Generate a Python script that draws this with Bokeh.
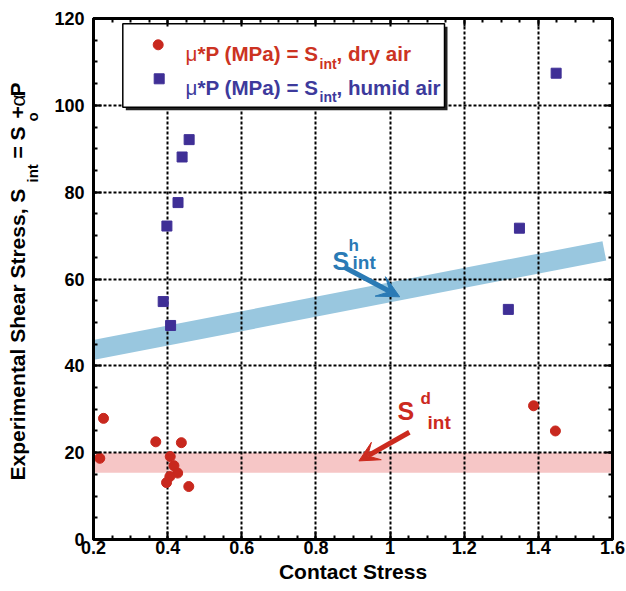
import math
from bokeh.plotting import figure
from bokeh.layouts import row
from bokeh.models import (Range1d, FixedTicker, LinearAxis, CustomJSTickFormatter,
                          Label, Arrow, VeeHead)
from bokeh.core.properties import value
from bokeh.embed import file_html
from bokeh.resources import INLINE

# ---------------- data ----------------
dry_x = [0.227, 0.217, 0.368, 0.437, 0.407, 0.417, 0.427, 0.406, 0.397, 0.457, 1.387, 1.446]
dry_y = [27.9, 18.7, 22.5, 22.3, 19.1, 17.0, 15.3, 14.5, 13.1, 12.2, 30.8, 25.0]
humid_x = [0.458, 0.439, 0.428, 0.398, 0.388, 0.408, 1.448, 1.349, 1.319]
humid_y = [92.1, 88.1, 77.6, 72.2, 54.8, 49.3, 107.4, 71.7, 53.0]

# humid-air band (S^h_int): centre line end points and half thickness
humid_band_x = [0.2, 1.578]
humid_band_y = [43.65, 66.5]
humid_band_half = 2.3
# dry-air band (S^d_int): lower / upper limits
dry_band_y = [15.4, 20.0]

x_ticks = [0.2, 0.4, 0.6, 0.8, 1.0, 1.2, 1.4, 1.6]
y_ticks = [0, 20, 40, 60, 80, 100, 120]

# arrows (tail -> head) in data units
arrow_h = [0.877, 62.7, 1.026, 55.9]
arrow_d = [1.052, 24.7, 0.916, 18.1]

RED = "#c8281e"
RED_T = "#cc3322"
BLUE = "#3f2f96"
BLUE_T = "#3d3a9c"
LBLUE = "#2a7ab5"
DRED = "#cc2a1e"
FONT = "Liberation Sans"

W, H = 626, 591
SW = 46                      # width of the strip that holds the y-axis title
BL, BR, BT, BB = 93, 14, 18, 52
X0, X1, Y0, Y1 = 0.2, 1.6, 0.0, 120.0
FW, FH = W - BL - BR, H - BT - BB


def px2x(px):
    return X0 + (px - BL) / FW * (X1 - X0)


def py2y(py):
    return Y0 + (BT + FH - py) / FH * (Y1 - Y0)


p = figure(width=W - SW, height=H, output_backend="svg", toolbar_location=None,
           x_range=Range1d(X0, X1), y_range=Range1d(Y0, Y1),
           min_border_left=BL - SW, min_border_right=BR, min_border_top=BT,
           min_border_bottom=BB)
p.background_fill_color = "white"
p.border_fill_color = "white"
p.outline_line_color = "black"
p.outline_line_width = 3

x_minor = [round(0.2 + 0.05 * i, 3) for i in range(29)]
y_minor = [5 * i for i in range(25)]


def style_axis(ax, ticks, minor, labels=True):
    ax.ticker = FixedTicker(ticks=ticks, minor_ticks=minor)
    ax.axis_line_color = "black"
    ax.axis_line_width = 3
    ax.major_tick_in = 8
    ax.major_tick_out = 0
    ax.minor_tick_in = 4
    ax.minor_tick_out = 0
    ax.major_tick_line_width = 2
    ax.minor_tick_line_width = 2
    ax.major_tick_line_color = "black"
    ax.minor_tick_line_color = "black"
    ax.major_label_text_font = FONT
    ax.major_label_text_font_style = "bold"
    ax.major_label_text_font_size = "18px"
    ax.major_label_text_color = "black"
    if not labels:
        ax.formatter = CustomJSTickFormatter(code="return '';")
        ax.major_label_standoff = 0


style_axis(p.xaxis[0], x_ticks, x_minor)
p.xaxis[0].formatter = CustomJSTickFormatter(code="return String(Math.round(tick*10)/10);")
p.xaxis[0].major_label_standoff = 1
p.xaxis[0].axis_label = "Contact Stress"
p.xaxis[0].axis_label_text_font = FONT
p.xaxis[0].axis_label_text_font_style = "bold"
p.xaxis[0].axis_label_text_font_size = "21px"
p.xaxis[0].axis_label_text_color = "black"
p.xaxis[0].axis_label_standoff = 3

style_axis(p.yaxis[0], y_ticks, y_minor)
p.yaxis[0].major_label_standoff = 9

top_ax = LinearAxis()
style_axis(top_ax, x_ticks, x_minor, labels=False)
p.add_layout(top_ax, "above")
right_ax = LinearAxis()
style_axis(right_ax, y_ticks, y_minor, labels=False)
p.add_layout(right_ax, "right")

for g, t in ((p.xgrid[0], x_ticks), (p.ygrid[0], y_ticks)):
    g.ticker = FixedTicker(ticks=t)
    g.grid_line_color = "black"
    g.grid_line_width = 2
    g.grid_line_dash = "3 2"

# ---------------- bands ----------------
slope = (humid_band_y[1] - humid_band_y[0]) / (humid_band_x[1] - humid_band_x[0])


def centre(x):
    return humid_band_y[0] + slope * (x - humid_band_x[0])


# perpendicular cut at the right end (in pixel space)
sx = FW / (X1 - X0)
sy = FH / (Y1 - Y0)
ang = math.atan(slope * sy / sx)
half_px = humid_band_half * sy * math.cos(ang)
dx = half_px * math.sin(ang) / sx
xr = humid_band_x[1]
xl = 0.1
bx = [xl, xr - dx, xr + dx, xl]
by = [centre(xl) + humid_band_half, centre(xr - dx) + humid_band_half,
      centre(xr + dx) - humid_band_half, centre(xl) - humid_band_half]
p.patch(bx, by, fill_color="#99c7df", line_color=None, level="image")

p.quad(left=[0.1], right=[1.7], bottom=[dry_band_y[0]], top=[dry_band_y[1]],
       fill_color="#f6c6c6", line_color=None, level="image")

# ---------------- points ----------------
p.scatter(dry_x, dry_y, marker="circle", size=10, fill_color=RED, line_color=RED)
p.scatter(humid_x, humid_y, marker="square", size=10, fill_color=BLUE, line_color=BLUE)

# ---------------- arrows ----------------
p.add_layout(Arrow(x_start=arrow_h[0], y_start=arrow_h[1], x_end=arrow_h[2], y_end=arrow_h[3],
                   line_color=LBLUE, line_width=5,
                   end=VeeHead(size=22, fill_color=LBLUE, line_color=LBLUE)))
p.add_layout(Arrow(x_start=arrow_d[0], y_start=arrow_d[1], x_end=arrow_d[2], y_end=arrow_d[3],
                   line_color=DRED, line_width=5,
                   end=VeeHead(size=20, fill_color=DRED, line_color=DRED)))


def lab(txt, px, py, size, color="black", bold=True):
    p.add_layout(Label(x=px2x(px), y=py2y(py), text=txt, text_font=FONT,
                       text_font_size=f"{size}px",
                       text_font_style="bold" if bold else "normal",
                       text_color=color, text_align="left",
                       text_baseline="alphabetic"))


# band labels
lab("S", 332, 260, 25, LBLUE)
lab("h", 348, 245, 17, LBLUE)
lab("int", 352, 262, 19, LBLUE)
lab("S", 397, 410, 25, DRED)
lab("d", 420, 398, 17, DRED)
lab("int", 427, 422, 19, DRED)

# ---------------- legend ----------------
lb_l, lb_r, lb_t, lb_b = 122.3, 444, 23.3, 106.7
p.quad(left=[px2x(lb_l + 3)], right=[px2x(lb_r + 3)], top=[py2y(lb_t + 3)], bottom=[py2y(lb_b + 3)],
       fill_color="#222222", line_color=None)
p.quad(left=[px2x(lb_l)], right=[px2x(lb_r)], top=[py2y(lb_t)], bottom=[py2y(lb_b)],
       fill_color="white", line_color="black", line_width=1.5)
p.scatter([px2x(157.7)], [py2y(44.3)], marker="circle", size=10, fill_color=RED, line_color=RED)
p.scatter([px2x(158.7)], [py2y(78.3)], marker="square", size=10, fill_color=BLUE, line_color=BLUE)

for base, col, tail in ((53.3, RED_T, ", dry air"), (86.7, BLUE_T, ", humid air")):
    lab("\u03bc", 185, base, 20.6, col, bold=False)
    lab("*P (MPa) = S", 197, base, 20.6, col)
    lab("int", 319, base + 9.7, 14, col)
    lab(tail, 336, base, 20.6, col)

# ---------------- y axis title (separate strip on the left) ----------------
# the row aligns this strip's frame with the main frame (screen rows BT .. H-BB)
s = figure(width=SW, height=H, output_backend="svg", toolbar_location=None,
           x_range=Range1d(0, SW), y_range=Range1d(BB, H - BT),
           x_axis_type=None, y_axis_type=None, title=None,
           min_border_left=0, min_border_right=0, min_border_top=0, min_border_bottom=0)
s.outline_line_color = None
s.xgrid.visible = False
s.ygrid.visible = False
s.background_fill_color = "white"
s.border_fill_color = "white"

R = math.pi / 2


def ylab(txt, px, py, size, bold=True):
    # rotated text is drawn about half a font size to the right of its anchor
    s.text(x=[px - 0.5 * size], y=[H - py], text=[txt], angle=R,
           text_font=value(FONT), text_font_size=value(f"{size}px"),
           text_font_style="bold" if bold else "normal", text_color="black",
           text_align="left", text_baseline="alphabetic")


ylab("Experimental Shear Stress, S", 27.5, 480, 21)
ylab("int", 39, 182, 15)
ylab("= S", 27.5, 158, 21)
ylab("o", 39, 121, 15)
ylab("+", 27.5, 118, 21)
ylab("\u03b1", 27.5, 106, 21, bold=False)
ylab("P", 27.5, 96, 21)

layout = row(s, p, spacing=0)
open("out.html", "w").write(file_html(layout, INLINE))
